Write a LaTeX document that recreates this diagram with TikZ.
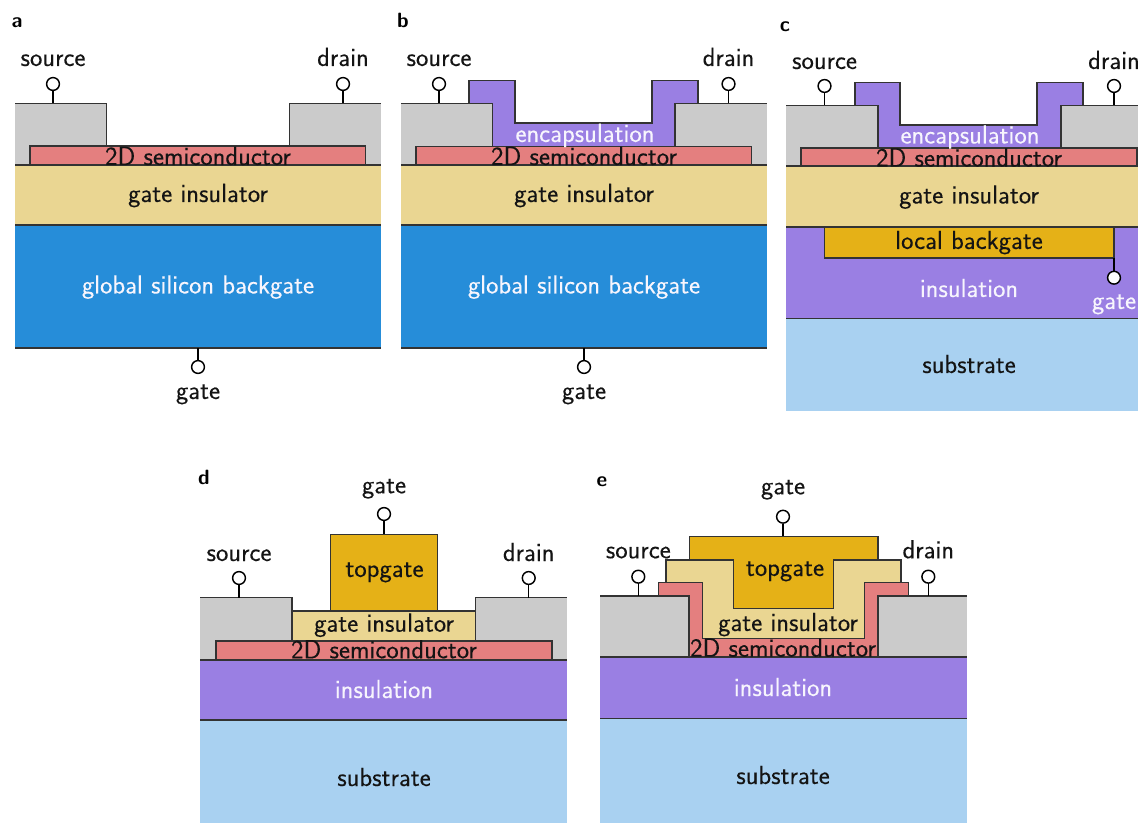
\documentclass[tikz,border=0pt]{standalone}
\usepackage{fontspec}
\setsansfont{Latin Modern Sans}
\newfontfamily\labfont[FakeBold=0.12]{Latin Modern Sans}
\definecolor{cPad}{HTML}{CBCBCB}
\definecolor{cSemi}{HTML}{E47F7F}
\definecolor{cIns}{HTML}{EAD692}
\definecolor{cBlue}{HTML}{268DD9}
\definecolor{cPurp}{HTML}{9A7FE3}
\definecolor{cGold}{HTML}{E5B117}
\definecolor{cSub}{HTML}{A9D1F1}
\definecolor{cLine}{HTML}{333333}
\tikzset{
  x=0.75pt,y=-0.75pt,
  edge/.style={draw=cLine,line width=0.8pt,line join=miter},
  lab/.style={inner sep=0pt,anchor=base,yshift=-0.75pt,font=\labfont\fontsize{19.7pt}{22pt}\selectfont,text=black!92},
  wlab/.style={lab,text=white!92!cPurp},
  panel/.style={inner sep=0pt,anchor=base,yshift=-0.75pt,font=\sffamily\bfseries\fontsize{15.5pt}{17pt}\selectfont,text=black},
  term/.style={circle,draw=black,fill=white,line width=1.1pt,minimum size=9.6pt,inner sep=0pt},
  stem/.style={draw=black,line width=1.1pt},
}
\newcommand{\padL}[4]{\fill[cPad] (#1,#2) rectangle (#3,#4);\draw[edge] (#1,#2) -- (#3,#2) -- (#3,#4);}
\newcommand{\padR}[4]{\fill[cPad] (#1,#4) rectangle (#3,#2);\draw[edge] (#1,#4) -- (#1,#2) -- (#3,#2);}
\begin{document}
\begin{tikzpicture}
\useasboundingbox (0,0) rectangle (1138,823);
\clip (0,0) rectangle (1138,823);

%% ---------- panel a
\padL{15}{103.5}{106.5}{165}
\padR{289.5}{103.5}{381}{165}
\fill[cIns] (15,165) rectangle (381,225);
\fill[cBlue] (15,225) rectangle (381,348);
\draw[edge,fill=cSemi] (30,165) rectangle (365.5,146);
\draw[edge] (15,165) -- (381,165);
\draw[edge] (15,225) -- (381,225);
\draw[edge] (15,348) -- (381,348);
\node[panel] (pa) at (17,27) {a};
\node[lab] (a2d) at (198,164) {2D semiconductor};
\node[lab] (ains) at (198,201) {gate insulator};
\node[wlab] (abg) at (198,292.5) {global silicon backgate};
\node[term] (asT) at (53,84) {};
\coordinate (asP) at (53,103.5);
\draw[stem] (asT) -- (asP);
\node[lab] (asL) at (53,65) {source};
\node[term] (adT) at (343,84) {};
\coordinate (adP) at (343,103.5);
\draw[stem] (adT) -- (adP);
\node[lab] (adL) at (343,65) {drain};
\node[term] (agT) at (198,367) {};
\coordinate (agP) at (198,348);
\draw[stem] (agT) -- (agP);
\node[lab] (agL) at (198,398) {gate};

%% ---------- panel b
\padL{401}{103.5}{492.3}{165}
\padR{675}{103.5}{767}{165}
\fill[cIns] (401,165) rectangle (767,225);
\fill[cBlue] (401,225) rectangle (767,348);
\draw[edge,fill=cPurp] (469,103.5) -- (469,80.7) -- (515,80.7) -- (515,123) -- (652,123) -- (652,80.7) -- (698,80.7) -- (698,103.5) -- (675,103.5) -- (675,146.5) -- (492.3,146.5) -- (492.3,103.5) -- cycle;
\draw[edge,fill=cSemi] (416,165) rectangle (751.5,146.5);
\draw[edge] (401,165) -- (767,165);
\draw[edge] (401,225) -- (767,225);
\draw[edge] (401,348) -- (767,348);
\node[panel] (pb) at (403,27) {b};
\node[wlab] (benc) at (585,141) {encapsulation};
\node[lab] (b2d) at (584,164) {2D semiconductor};
\node[lab] (bins) at (584,201) {gate insulator};
\node[wlab] (bbg) at (584,292.5) {global silicon backgate};
\node[term] (bsT) at (439,84) {};
\coordinate (bsP) at (439,103.5);
\draw[stem] (bsT) -- (bsP);
\node[lab] (bsL) at (439,65) {source};
\node[term] (bdT) at (728.5,84) {};
\coordinate (bdP) at (728.5,103.5);
\draw[stem] (bdT) -- (bdP);
\node[lab] (bdL) at (728.5,65) {drain};
\node[term] (bgT) at (584,367) {};
\coordinate (bgP) at (584,348);
\draw[stem] (bgT) -- (bgP);
\node[lab] (bgL) at (584,398) {gate};

%% ---------- panel c
\padL{786}{105.5}{878}{166}
\padR{1061}{105.5}{1152}{166}
\fill[cIns] (786,166) rectangle (1138,227);
\fill[cPurp] (786,227) rectangle (1138,318.5);
\fill[cSub] (786,318.5) rectangle (1138,411);
\draw[edge,fill=cPurp] (855,105.5) -- (855,82.5) -- (900,82.5) -- (900,125) -- (1037,125) -- (1037,82.5) -- (1083,82.5) -- (1083,105.5) -- (1061,105.5) -- (1061,148) -- (878,148) -- (878,105.5) -- cycle;
\draw[edge,fill=cSemi] (801,166) rectangle (1137,148);
\draw[edge] (786,166) -- (1138,166);
\draw[edge] (786,227) -- (1138,227);
\draw[edge,fill=cGold] (824.5,227) rectangle (1114,258);
\draw[edge] (786,318.5) -- (1138,318.5);
\node[panel] (pc) at (785,31) {c};
\node[wlab] (cenc) at (970,142.5) {encapsulation};
\node[lab] (c2d) at (969,165.5) {2D semiconductor};
\node[lab] (cins) at (969,202.5) {gate insulator};
\node[lab] (cbg) at (969,248) {local backgate};
\node[wlab] (cin2) at (969,296) {insulation};
\node[lab] (csub) at (969,372) {substrate};
\node[term] (csT) at (824.5,86) {};
\coordinate (csP) at (824.5,105.5);
\draw[stem] (csT) -- (csP);
\node[lab] (csL) at (824.5,68) {source};
\node[term] (cdT) at (1114,86) {};
\coordinate (cdP) at (1114,105.5);
\draw[stem] (cdT) -- (cdP);
\node[lab] (cdL) at (1114,68) {drain};
\node[term] (cgT) at (1114,277.7) {};
\coordinate (cgP) at (1114,258);
\draw[stem] (cgT) -- (cgP);
\node[wlab] (cgL) at (1114,308) {gate};

%% ---------- panel d
\padL{200}{597.7}{292}{660}
\padR{475.3}{597.7}{567}{660}
\fill[cPurp] (200,660) rectangle (567,720);
\fill[cSub] (200,720) rectangle (567,823);
\draw[edge,fill=cGold] (330.3,611) rectangle (437.3,534.3);
\draw[edge,fill=cIns] (292,641) rectangle (475.3,611);
\draw[edge,fill=cSemi] (216,660) rectangle (552,641);
\draw[edge] (200,660) -- (567,660);
\draw[edge] (200,720) -- (567,720);
\node[panel] (pd) at (204,483) {d};
\node[lab] (dtg) at (384.5,576) {topgate};
\node[lab] (dins) at (384,630.7) {gate insulator};
\node[lab] (d2d) at (384,657.3) {2D semiconductor};
\node[wlab] (din2) at (384,697) {insulation};
\node[lab] (dsub) at (384,785) {substrate};
\node[term] (dgT) at (384,514) {};
\coordinate (dgP) at (384,534.3);
\draw[stem] (dgT) -- (dgP);
\node[lab] (dgL) at (384,492.3) {gate};
\node[term] (dsT) at (239,578) {};
\coordinate (dsP) at (239,597.7);
\draw[stem] (dsT) -- (dsP);
\node[lab] (dsL) at (239,560) {source};
\node[term] (ddT) at (528.7,578) {};
\coordinate (ddP) at (528.7,597.7);
\draw[stem] (ddT) -- (ddP);
\node[lab] (ddL) at (528.7,560) {drain};

%% ---------- panel e
\padL{600}{596}{689}{657}
\padR{878}{596}{967}{657}
\fill[cPurp] (600,657) rectangle (967,718.5);
\fill[cSub] (600,718.5) rectangle (967,823);
\draw[edge,fill=cGold] (689.3,560) -- (689.3,536.3) -- (878,536.3) -- (878,560) -- (833.3,560) -- (833.3,608.3) -- (733.3,608.3) -- (733.3,560) -- cycle;
\draw[edge,fill=cIns] (666,582.3) -- (666,560) -- (733.3,560) -- (733.3,608.3) -- (833.3,608.3) -- (833.3,560) -- (901,560) -- (901,582.3) -- (864.3,582.3) -- (864.3,638.3) -- (702.3,638.3) -- (702.3,582.3) -- cycle;
\draw[edge,fill=cSemi] (658.3,596) -- (658.3,582.3) -- (702.3,582.3) -- (702.3,638.3) -- (864.3,638.3) -- (864.3,582.3) -- (908.3,582.3) -- (908.3,596) -- (878,596) -- (878,657) -- (689,657) -- (689,596) -- cycle;
\draw[edge] (600,657) -- (967,657);
\draw[edge] (600,718.5) -- (967,718.5);
\node[panel] (pe) at (602,485) {e};
\node[lab] (etg) at (785,575) {topgate};
\node[lab] (eins) at (788,630) {gate insulator};
\node[lab] (e2d) at (783,655.7) {2D semiconductor};
\node[wlab] (ein2) at (783,695) {insulation};
\node[lab] (esub) at (783,783) {substrate};
\node[term] (egT) at (783,516.7) {};
\coordinate (egP) at (783,536.3);
\draw[stem] (egT) -- (egP);
\node[lab] (egL) at (783,493.3) {gate};
\node[term] (esT) at (638.3,576.7) {};
\coordinate (esP) at (638.3,596);
\draw[stem] (esT) -- (esP);
\node[lab] (esL) at (638.3,557.3) {source};
\node[term] (edT) at (928.3,576.7) {};
\coordinate (edP) at (928.3,596);
\draw[stem] (edT) -- (edP);
\node[lab] (edL) at (928.3,557.3) {drain};
\end{tikzpicture}
\end{document}
